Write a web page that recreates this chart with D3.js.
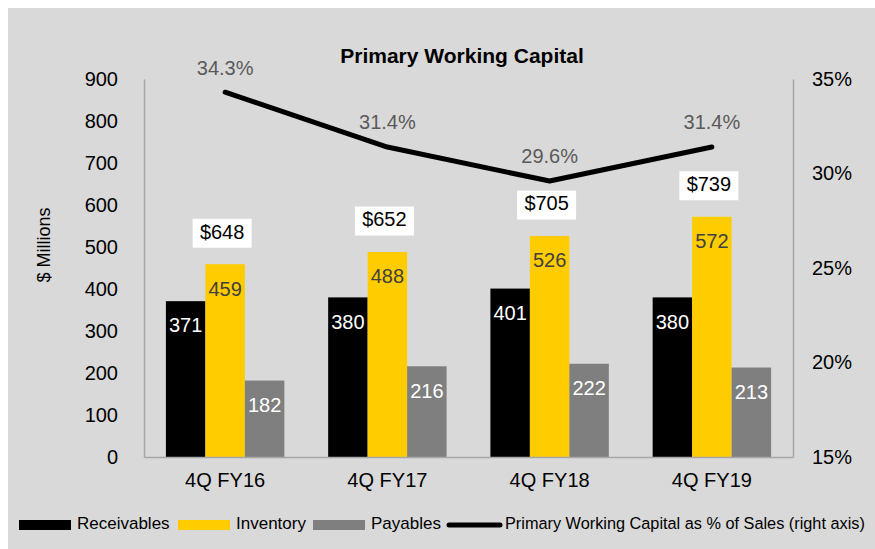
<!DOCTYPE html>
<html>
<head>
<meta charset="utf-8">
<script src="https://cdn.jsdelivr.net/npm/d3@7"></script>
<style>
  body { margin: 0; background: #fff; }
  svg { display: block; font-family: Arial, "Liberation Sans", sans-serif; }
</style>
</head>
<body>
<div id="chart"></div>
<script>
// data
const quarters = ["4Q FY16", "4Q FY17", "4Q FY18", "4Q FY19"];
const receivables = [371, 380, 401, 380];
const inventory = [459, 488, 526, 572];
const payables = [182, 216, 222, 213];
const totals = ["$648", "$652", "$705", "$739"];
const pctOfSales = [34.3, 31.4, 29.6, 31.4];
const leftTicks = [0, 100, 200, 300, 400, 500, 600, 700, 800, 900];
const rightTicks = [15, 20, 25, 30, 35];

const width = 875, height = 549;
const margin = { top: 79, right: 82, bottom: 92, left: 144 };

const svg = d3.select("#chart").append("svg")
    .attr("width", width)
    .attr("height", height);

// gray panel
svg.append("rect")
    .attr("x", 8).attr("y", 8)
    .attr("width", width - 8).attr("height", height - 8)
    .attr("fill", "#d9d9d9");

const x0 = d3.scaleBand()
    .domain(quarters)
    .range([margin.left, width - margin.right])
    .paddingInner(0.27)
    .paddingOuter(0.135);

const series = [
    { key: "Receivables", values: receivables, fill: "#000000", text: "#ffffff" },
    { key: "Inventory", values: inventory, fill: "#ffcc00", text: "#404040" },
    { key: "Payables", values: payables, fill: "#7f7f7f", text: "#ffffff" }
];

const x1 = d3.scaleBand()
    .domain(series.map(s => s.key))
    .range([0, x0.bandwidth()]);

const yL = d3.scaleLinear().domain([0, 900]).range([height - margin.bottom, margin.top]);
const yR = d3.scaleLinear().domain([15, 35]).range([height - margin.bottom, margin.top]);

// axes (lines only, no ticks)
const axisColor = "#a6a6a6";
const yAxisL = d3.axisLeft(yL).tickValues(leftTicks).tickSize(0).tickPadding(26);
const yAxisR = d3.axisRight(yR).tickValues(rightTicks).tickSize(0).tickPadding(19)
    .tickFormat(d => d + "%");

const gL = svg.append("g")
    .attr("transform", `translate(${margin.left},0)`)
    .call(yAxisL);
const gR = svg.append("g")
    .attr("transform", `translate(${width - margin.right},0)`)
    .call(yAxisR);
[gL, gR].forEach(g => {
    g.select(".domain").attr("stroke", axisColor).attr("stroke-width", 1.5);
    g.selectAll("text").attr("font-size", 20).attr("fill", "#000")
        .attr("font-family", "Arial, 'Liberation Sans', sans-serif");
});

// bars
const groups = svg.append("g").selectAll("g")
    .data(quarters)
    .join("g")
    .attr("transform", d => `translate(${x0(d)},0)`);

series.forEach(s => {
    groups.append("rect")
        .attr("x", x1(s.key))
        .attr("width", x1.bandwidth())
        .attr("y", (d, i) => yL(s.values[i]))
        .attr("height", (d, i) => yL(0) - yL(s.values[i]))
        .attr("fill", s.fill);
    groups.append("text")
        .attr("x", x1(s.key) + x1.bandwidth() / 2)
        .attr("y", (d, i) => yL(s.values[i]) + 26)
        .attr("text-anchor", "middle")
        .attr("dominant-baseline", "middle")
        .attr("font-size", 20)
        .attr("fill", s.text)
        .text((d, i) => s.values[i]);
});

// bottom axis line
const xAxis = d3.axisBottom(x0).tickSize(0).tickPadding(16);
const gX = svg.append("g")
    .attr("transform", `translate(0,${height - margin.bottom})`)
    .call(xAxis);
gX.select(".domain").attr("stroke", axisColor).attr("stroke-width", 1.5);
gX.selectAll("text").attr("font-size", 20).attr("fill", "#000")
    .attr("font-family", "Arial, 'Liberation Sans', sans-serif");

// total boxes
const totalG = svg.append("g").selectAll("g")
    .data(quarters)
    .join("g")
    .attr("transform", (d, i) => `translate(${x0(d) + x0.bandwidth() / 2 - 3},${yL(inventory[i]) - 31})`);
totalG.append("rect")
    .attr("x", -29.5).attr("y", -14.5)
    .attr("width", 59).attr("height", 29)
    .attr("fill", "#ffffff");
totalG.append("text")
    .attr("text-anchor", "middle")
    .attr("dominant-baseline", "middle")
    .attr("font-size", 20)
    .attr("fill", "#000")
    .text((d, i) => totals[i]);

// % of sales line
const line = d3.line()
    .x((d, i) => x0(quarters[i]) + x0.bandwidth() / 2)
    .y(d => yR(d));
svg.append("path")
    .datum(pctOfSales)
    .attr("d", line)
    .attr("fill", "none")
    .attr("stroke", "#000")
    .attr("stroke-width", 5)
    .attr("stroke-linecap", "round")
    .attr("stroke-linejoin", "round");
svg.append("g").selectAll("text")
    .data(pctOfSales)
    .join("text")
    .attr("x", (d, i) => x0(quarters[i]) + x0.bandwidth() / 2)
    .attr("y", d => yR(d) - 23)
    .attr("text-anchor", "middle")
    .attr("dominant-baseline", "middle")
    .attr("font-size", 20)
    .attr("fill", "#595959")
    .text(d => d.toFixed(1) + "%");

// title
svg.append("text")
    .attr("x", 462).attr("y", 57)
    .attr("text-anchor", "middle")
    .attr("dominant-baseline", "middle")
    .attr("font-size", 21)
    .attr("font-weight", "bold")
    .attr("fill", "#000")
    .text("Primary Working Capital");

// y axis title
svg.append("text")
    .attr("transform", "translate(45,245) rotate(-90)")
    .attr("text-anchor", "middle")
    .attr("dominant-baseline", "middle")
    .attr("font-size", 18)
    .attr("fill", "#000")
    .text("$ Millions");

// legend
const legendItems = [
    { label: "Receivables", fill: "#000000", type: "rect", x: 19, size: 17 },
    { label: "Inventory", fill: "#ffcc00", type: "rect", x: 178, size: 17 },
    { label: "Payables", fill: "#7f7f7f", type: "rect", x: 313, size: 17 },
    { label: "Primary Working Capital as % of Sales (right axis)", fill: "#000", type: "line", x: 447, size: 16.3 }
];
const legend = svg.append("g").selectAll("g")
    .data(legendItems)
    .join("g")
    .attr("transform", d => `translate(${d.x},525)`);
legend.filter(d => d.type === "rect").append("rect")
    .attr("x", 0).attr("y", -5)
    .attr("width", 52).attr("height", 10)
    .attr("fill", d => d.fill);
legend.filter(d => d.type === "line").append("line")
    .attr("x1", 2).attr("x2", 53)
    .attr("stroke", "#000")
    .attr("stroke-width", 5)
    .attr("stroke-linecap", "round");
legend.append("text")
    .attr("x", 58)
    .attr("dominant-baseline", "middle")
    .attr("font-size", d => d.size)
    .attr("fill", "#000")
    .text(d => d.label);
</script>
</body>
</html>
